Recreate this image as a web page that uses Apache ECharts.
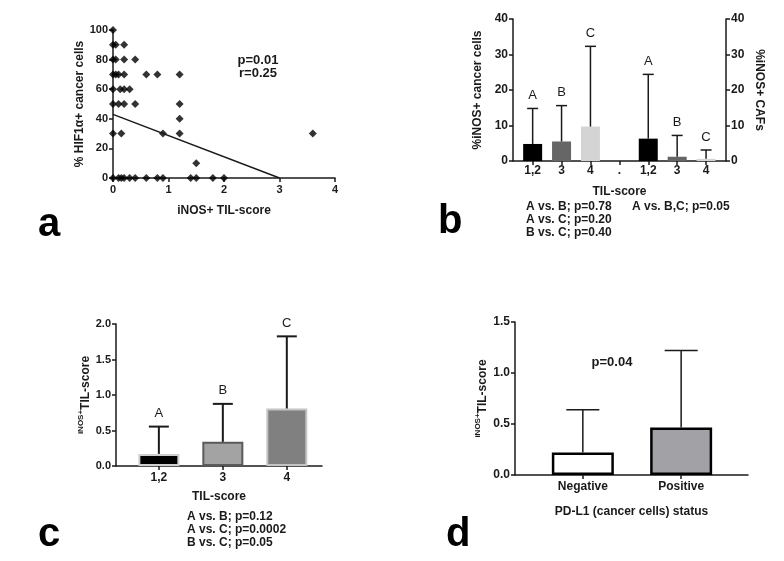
<!DOCTYPE html>
<html>
<head>
<meta charset="utf-8">
<script src="https://cdn.jsdelivr.net/npm/echarts@6/dist/echarts.min.js"></script>
<style>
  html, body { margin: 0; padding: 0; background: #fff; }
  #main { width: 784px; height: 561px; }
</style>
</head>
<body>
<div id="main"></div>
<script>
// panel a: iNOS+ TIL-score vs % HIF1a+ cancer cells
const aPoints = [
  [0, 100],
  [0, 90], [0.05, 90], [0.2, 90],
  [0, 80], [0.05, 80], [0.2, 80], [0.4, 80],
  [0, 70], [0.05, 70], [0.1, 70], [0.2, 70], [0.6, 70], [0.8, 70], [1.2, 70],
  [0, 60], [0.13, 60], [0.2, 60], [0.3, 60],
  [0, 50], [0.1, 50], [0.2, 50], [0.4, 50], [1.2, 50],
  [1.2, 40],
  [0, 30], [0.15, 30], [0.9, 30], [1.2, 30], [3.6, 30],
  [1.5, 10],
  [0, 0], [0.1, 0], [0.15, 0], [0.2, 0], [0.3, 0], [0.4, 0], [0.6, 0], [0.8, 0],
  [0.9, 0], [1.4, 0], [1.5, 0], [1.8, 0], [2.0, 0]
]
const aFit = [[0, 43], [3, 0]]

// panel b: %iNOS+ cancer cells / CAFs by TIL-score
const bCats = ['1,2', '3', '4', '.', '1,2', '3', '4']
const bCancerMean = [4.8, 5.5, 9.7]
const bCancerErr = [14.8, 15.6, 32.3]
const bCafMean = [6.3, 1.2, 0.6]
const bCafErr = [24.4, 7.2, 3.1]
const bLetters = ['A', 'B', 'C']
const bColors = ['#000000', '#666666', '#d4d4d4']

// panel c: iNOS+ TIL-score by TIL-score
const cCats = ['1,2', '3', '4']
const cMean = [0.17, 0.34, 0.81]
const cErr = [0.555, 0.875, 1.826]
const cLetters = ['A', 'B', 'C']

// panel d: iNOS+ TIL-score by PD-L1 status
const dCats = ['Negative', 'Positive']
const dMean = [0.22, 0.465]
const dErr = [0.64, 1.22]

const FONT = '"Liberation Sans", Arial, sans-serif'
const INK = '#1a1a1a'

var myChart = echarts.init(document.getElementById('main'))

// 误差线 + 字母
function errRender(capW, lw, letters) {
  return function (params, api) {
    const x = api.value(0)
    const p0 = api.coord([x, api.value(1)])
    const p1 = api.coord([x, api.value(2)])
    const children = [
      { type: 'line', shape: { x1: p0[0], y1: p0[1], x2: p1[0], y2: p1[1] }, style: { stroke: INK, lineWidth: lw } },
      { type: 'line', shape: { x1: p1[0] - capW / 2, y1: p1[1], x2: p1[0] + capW / 2, y2: p1[1] }, style: { stroke: INK, lineWidth: lw } }
    ]
    if (letters) {
      children.push({
        type: 'text',
        style: {
          text: letters[params.dataIndex], x: p1[0], y: p1[1] - 13,
          textAlign: 'center', textVerticalAlign: 'middle', align: 'center', verticalAlign: 'middle',
          font: '13px ' + FONT, fill: INK
        }
      })
    }
    return { type: 'group', children: children }
  }
}

const axisCommon = {
  axisLine: { show: true, onZero: false, lineStyle: { color: INK, width: 1.5 } },
  axisTick: { show: true, length: 4, lineStyle: { color: INK, width: 1.5 } },
  splitLine: { show: false },
  nameTextStyle: { fontFamily: FONT, fontWeight: 'bold', fontSize: 12, color: INK }
}
function lab(size, margin, fmt) {
  return { fontFamily: FONT, fontWeight: 'bold', fontSize: size, color: INK, margin: margin, formatter: fmt }
}
function catX(grid, min, max, cats, nameStr, gap, margin) {
  const idx = cats.map((c, i) => i)
  return Object.assign({}, axisCommon, {
    type: 'value', gridIndex: grid, min: min, max: max,
    name: nameStr, nameLocation: 'middle', nameGap: gap,
    axisLabel: Object.assign(lab(12, margin, v => cats[Math.round(v)]), { customValues: idx }),
    axisTick: Object.assign({}, axisCommon.axisTick, { customValues: idx })
  })
}
const supName = {
  rich: {
    sup: { fontFamily: FONT, fontSize: 8, fontWeight: 'bold', color: INK, verticalAlign: 'top', lineHeight: 18 },
    main: { fontFamily: FONT, fontSize: 12, fontWeight: 'bold', color: INK, lineHeight: 18 }
  }
}

var option = {
  animation: false,
  grid: [
    { left: 113, top: 30, width: 222, height: 148 },
    { left: 513, top: 19, width: 213, height: 142 },
    { left: 116, top: 324, width: 206, height: 142 },
    { left: 515, top: 322, width: 233, height: 153 }
  ],
  xAxis: [
    Object.assign({}, axisCommon, {
      type: 'value', gridIndex: 0, min: 0, max: 4, interval: 1,
      name: 'iNOS+ TIL-score', nameLocation: 'middle', nameGap: 27,
      axisLabel: lab(11, 6)
    }),
    catX(1, -0.68, 6.69, bCats, 'TIL-score', 25, 4),
    catX(2, -0.67, 2.55, cCats, 'TIL-score', 25, 6),
    catX(3, -0.69, 1.68, dCats, 'PD-L1 (cancer cells) status', 31, 6)
  ],
  yAxis: [
    Object.assign({}, axisCommon, {
      type: 'value', gridIndex: 0, min: 0, max: 100, interval: 20,
      name: '% HIF1α+ cancer cells', nameLocation: 'middle', nameRotate: 90, nameGap: 27,
      axisLabel: lab(11, 5)
    }),
    Object.assign({}, axisCommon, {
      type: 'value', gridIndex: 1, min: 0, max: 40, interval: 10,
      name: '%iNOS+ cancer cells', nameLocation: 'middle', nameRotate: 90, nameGap: 29,
      axisLabel: lab(12, 5)
    }),
    Object.assign({}, axisCommon, {
      type: 'value', gridIndex: 1, min: 0, max: 40, interval: 10, position: 'right',
      name: '%iNOS+ CAFs', nameLocation: 'middle', nameRotate: -90, nameGap: 27,
      axisLabel: lab(12, 5)
    }),
    Object.assign({}, axisCommon, {
      type: 'value', gridIndex: 2, min: 0, max: 2, interval: 0.5,
      name: '{sup|iNOS+}{main|TIL-score}', nameLocation: 'middle', nameRotate: 90, nameGap: 12,
      nameTextStyle: supName,
      axisLabel: lab(11, 5, v => v.toFixed(1))
    }),
    Object.assign({}, axisCommon, {
      type: 'value', gridIndex: 3, min: 0, max: 1.5, interval: 0.5,
      name: '{sup|iNOS+}{main|TIL-score}', nameLocation: 'middle', nameRotate: 90, nameGap: 23,
      nameTextStyle: supName,
      axisLabel: lab(12, 5, v => v.toFixed(1))
    })
  ],
  series: [
    {
      type: 'scatter', xAxisIndex: 0, yAxisIndex: 0, clip: false,
      symbol: 'diamond', symbolSize: 8, itemStyle: { color: '#000' },
      data: aPoints
    },
    {
      type: 'line', xAxisIndex: 0, yAxisIndex: 0, symbol: 'none',
      lineStyle: { color: INK, width: 1.5 }, data: aFit
    },
    {
      type: 'bar', xAxisIndex: 1, yAxisIndex: 1, barWidth: 19,
      data: bCancerMean.map((v, i) => ({ value: [i, v], itemStyle: { color: bColors[i] } }))
    },
    {
      type: 'bar', xAxisIndex: 1, yAxisIndex: 2, barWidth: 19, barGap: '-100%',
      data: bCafMean.map((v, i) => ({ value: [i + 4, v], itemStyle: { color: bColors[i] } }))
    },
    {
      type: 'custom', xAxisIndex: 1, yAxisIndex: 1, z: 3,
      renderItem: errRender(11, 1.5, bLetters),
      encode: { x: 0, y: [1, 2] },
      data: bCancerMean.map((v, i) => [i, v, bCancerErr[i]])
    },
    {
      type: 'custom', xAxisIndex: 1, yAxisIndex: 2, z: 3,
      renderItem: errRender(11, 1.5, bLetters),
      encode: { x: 0, y: [1, 2] },
      data: bCafMean.map((v, i) => [i + 4, v, bCafErr[i]])
    },
    {
      type: 'bar', xAxisIndex: 2, yAxisIndex: 3, barWidth: 41,
      data: [
        { value: [0, cMean[0]], itemStyle: { color: '#000000', borderColor: '#cfcfcf', borderWidth: 2 } },
        { value: [1, cMean[1]], itemStyle: { color: '#a3a3a3', borderColor: '#5a5a5a', borderWidth: 2 } },
        { value: [2, cMean[2]], itemStyle: { color: '#808080', borderColor: '#c4c4c4', borderWidth: 2 } }
      ]
    },
    {
      type: 'custom', xAxisIndex: 2, yAxisIndex: 3, z: 3,
      renderItem: errRender(20, 2, cLetters),
      encode: { x: 0, y: [1, 2] },
      data: cMean.map((v, i) => [i, v, cErr[i]])
    },
    {
      type: 'bar', xAxisIndex: 3, yAxisIndex: 4, barWidth: 62,
      data: [
        { value: [0, dMean[0]], itemStyle: { color: '#ffffff', borderColor: '#000', borderWidth: 2.5 } },
        { value: [1, dMean[1]], itemStyle: { color: '#a2a2a6', borderColor: '#000', borderWidth: 2.5 } }
      ]
    },
    {
      type: 'custom', xAxisIndex: 3, yAxisIndex: 4, z: 3,
      renderItem: errRender(33, 1.5, null),
      encode: { x: 0, y: [1, 2] },
      data: dMean.map((v, i) => [i, v, dErr[i]])
    }
  ],
  graphic: [
    { type: 'text', style: { text: 'p=0.01', x: 258, y: 60, textAlign: 'center', textVerticalAlign: 'middle', font: 'bold 13px ' + FONT, fill: INK } },
    { type: 'text', style: { text: 'r=0.25', x: 258, y: 73, textAlign: 'center', textVerticalAlign: 'middle', font: 'bold 13px ' + FONT, fill: INK } },
    { type: 'text', style: { text: 'A vs. B; p=0.78', x: 526, y: 207, textVerticalAlign: 'middle', font: 'bold 12px ' + FONT, fill: INK } },
    { type: 'text', style: { text: 'A vs. C; p=0.20', x: 526, y: 220, textVerticalAlign: 'middle', font: 'bold 12px ' + FONT, fill: INK } },
    { type: 'text', style: { text: 'B vs. C; p=0.40', x: 526, y: 233, textVerticalAlign: 'middle', font: 'bold 12px ' + FONT, fill: INK } },
    { type: 'text', style: { text: 'A vs. B,C; p=0.05', x: 632, y: 207, textVerticalAlign: 'middle', font: 'bold 12px ' + FONT, fill: INK } },
    { type: 'text', style: { text: 'A vs. B; p=0.12', x: 187, y: 517, textVerticalAlign: 'middle', font: 'bold 12px ' + FONT, fill: INK } },
    { type: 'text', style: { text: 'A vs. C; p=0.0002', x: 187, y: 530, textVerticalAlign: 'middle', font: 'bold 12px ' + FONT, fill: INK } },
    { type: 'text', style: { text: 'B vs. C; p=0.05', x: 187, y: 543, textVerticalAlign: 'middle', font: 'bold 12px ' + FONT, fill: INK } },
    { type: 'text', style: { text: 'p=0.04', x: 612, y: 362, textAlign: 'center', textVerticalAlign: 'middle', font: 'bold 13px ' + FONT, fill: INK } },
    { type: 'text', style: { text: 'a', x: 38, y: 225, textVerticalAlign: 'middle', font: 'bold 40px ' + FONT, fill: '#000' } },
    { type: 'text', style: { text: 'b', x: 438, y: 222, textVerticalAlign: 'middle', font: 'bold 40px ' + FONT, fill: '#000' } },
    { type: 'text', style: { text: 'c', x: 38, y: 535, textVerticalAlign: 'middle', font: 'bold 40px ' + FONT, fill: '#000' } },
    { type: 'text', style: { text: 'd', x: 446, y: 535, textVerticalAlign: 'middle', font: 'bold 40px ' + FONT, fill: '#000' } }
  ]
}

myChart.setOption(option)
</script>
</body>
</html>
